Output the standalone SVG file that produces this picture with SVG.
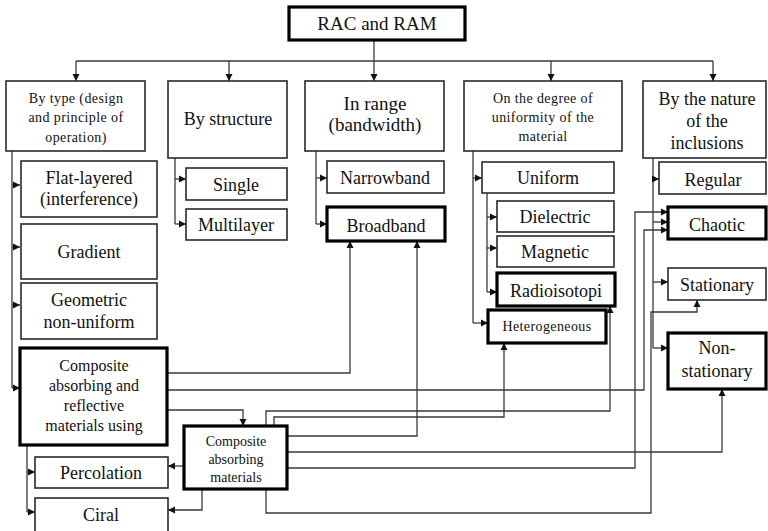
<svg xmlns="http://www.w3.org/2000/svg" width="768" height="531" viewBox="0 0 768 531" font-family="'Liberation Serif', 'DejaVu Serif', serif">
<defs>
<marker id="ah" markerWidth="8" markerHeight="8" refX="7" refY="4" orient="auto" markerUnits="userSpaceOnUse">
<path d="M0,0.5 L7,4 L0,7.5 z" fill="#111"/>
</marker>
</defs>
<style>
rect{fill:#fff;stroke:#2a2a2a;stroke-width:1.6}
rect.thick{stroke:#000;stroke-width:3.2}
text{font-family:'Liberation Serif','DejaVu Serif',serif;fill:#111;text-anchor:middle}
.s19{font-size:19px}
.s18{font-size:18px}
.s16{font-size:16px}
.s14{font-size:14px;letter-spacing:0.4px}
.c path{fill:none;stroke:#3a3a3a;stroke-width:1.3}
.c path.a{marker-end:url(#ah)}
</style>
<rect width="768" height="531" fill="#fff" style="stroke:none"/>

<g class="c" id="connectors">
<path d="M374,40 V61"/>
<path d="M76,61 H713"/>
<path class="a" d="M76,61 V81"/>
<path class="a" d="M229,61 V81"/>
<path class="a" d="M374,61 V81"/>
<path class="a" d="M551,61 V81"/>
<path class="a" d="M713,61 V81"/>
<path d="M12,151 V388"/>
<path class="a" d="M12,185 H20"/>
<path class="a" d="M12,247 H20"/>
<path class="a" d="M12,305 H20"/>
<path class="a" d="M12,388 H20"/>
<path d="M27,445 V512"/>
<path class="a" d="M27,472 H35"/>
<path class="a" d="M27,512 H35"/>
<path d="M175,158 V224"/>
<path class="a" d="M175,179 H186"/>
<path class="a" d="M175,224 H186"/>
<path d="M316,151 V224"/>
<path class="a" d="M316,178 H327"/>
<path class="a" d="M316,224 H327"/>
<path d="M473,151 V323"/>
<path class="a" d="M473,178 H482"/>
<path class="a" d="M473,323 H488"/>
<path d="M487,193 V292"/>
<path class="a" d="M487,217 H497"/>
<path class="a" d="M487,248 H497"/>
<path class="a" d="M487,292 H497"/>
<path d="M653,158 V348"/>
<path class="a" d="M653,179 H659"/>
<path class="a" d="M653,222 H668"/>
<path class="a" d="M653,282 H668"/>
<path class="a" d="M653,348 H668"/>
<path class="a" d="M167,373 H350 V241"/>
<path class="a" d="M167,390 H644 V230 H668"/>
<path class="a" d="M167,410 H243 V426"/>
<path class="a" d="M266,426 V411 H610 V306"/>
<path class="a" d="M274,426 V417 H504 V343"/>
<path class="a" d="M287,436 H417 V241"/>
<path class="a" d="M287,452 H722 V389"/>
<path class="a" d="M287,468 H635 V212 H668"/>
<path class="a" d="M266,489 V513 H651 V312 H697 V300"/>
<path class="a" d="M184,466 H168"/>
<path class="a" d="M202,489 V510 H168"/>
</g>

<g id="rac"><rect class="thick" x="289" y="7" width="176" height="33"/><text class="s19" x="377" y="30">RAC and RAM</text></g>

<g id="bytype"><rect x="6" y="81" width="139" height="70"/>
<text class="s14" x="76" y="103">By type (design</text><text class="s14" x="76" y="122">and principle  of</text><text class="s14" x="76" y="142">operation)</text></g>
<g id="bystructure"><rect x="168" y="81" width="119" height="77"/><text class="s18" x="228" y="125">By structure</text></g>
<g id="inrange"><rect x="305" y="81" width="139" height="70"/><text class="s19" x="375" y="110">In range</text><text class="s19" x="375" y="131">(bandwidth)</text></g>
<g id="degree"><rect x="464" y="81" width="158" height="70"/>
<text class="s14" x="543" y="103">On the degree of</text><text class="s14" x="543" y="122">uniformity  of the</text><text class="s14" x="543" y="141">material</text></g>
<g id="nature"><rect x="643" y="81" width="123" height="77"/>
<text class="s18" x="707" y="105">By the nature</text><text class="s18" x="707" y="127">of the</text><text class="s18" x="707" y="149">inclusions</text></g>

<g id="flat"><rect x="21" y="161" width="136" height="56"/><text class="s18" x="89" y="184">Flat-layered</text><text class="s18" x="89" y="205">(interference)</text></g>
<g id="gradient"><rect x="21" y="224" width="136" height="55"/><text class="s18" x="89" y="258">Gradient</text></g>
<g id="geometric"><rect x="21" y="283" width="136" height="56"/><text class="s18" x="89" y="306">Geometric</text><text class="s18" x="89" y="328">non-uniform</text></g>
<g id="car"><rect class="thick" x="20" y="348" width="147" height="97"/>
<text class="s16" x="94" y="371">Composite</text><text class="s16" x="94" y="391">absorbing  and</text><text class="s16" x="94" y="411">reflective</text><text class="s16" x="94" y="431">materials using</text></g>
<g id="cam"><rect class="thick" x="184" y="426" width="103" height="63"/>
<text class="s14" x="236" y="446" style="letter-spacing:0">Composite</text><text class="s14" x="236" y="464" style="letter-spacing:0">absorbing</text><text class="s14" x="236" y="482" style="letter-spacing:0">materials</text></g>
<g id="percolation"><rect x="35" y="457" width="133" height="31"/><text class="s18" x="101" y="479">Percolation</text></g>
<g id="ciral"><rect x="35" y="498" width="133" height="36"/><text class="s18" x="101" y="521">Ciral</text></g>

<g id="single"><rect x="186" y="168" width="101" height="32"/><text class="s18" x="236" y="191">Single</text></g>
<g id="multilayer"><rect x="186" y="209" width="101" height="31"/><text class="s18" x="236" y="231">Multilayer</text></g>
<g id="narrowband"><rect x="327" y="161" width="117" height="32"/><text class="s18" x="385" y="184">Narrowband</text></g>
<g id="broadband"><rect class="thick" x="327" y="207" width="118" height="34"/><text class="s18" x="386" y="232">Broadband</text></g>

<g id="uniform"><rect x="482" y="162" width="132" height="31"/><text class="s18" x="548" y="184">Uniform</text></g>
<g id="dielectric"><rect x="497" y="201" width="117" height="31"/><text class="s18" x="555" y="223">Dielectric</text></g>
<g id="magnetic"><rect x="497" y="236" width="117" height="31"/><text class="s18" x="555" y="258">Magnetic</text></g>
<g id="radioisotopi"><rect class="thick" x="497" y="273" width="118" height="33"/><text class="s18" x="556" y="297">Radioisotopi</text></g>
<g id="heterogeneous"><rect class="thick" x="488" y="310" width="118" height="33"/><text class="s14" x="547" y="331">Heterogeneous</text></g>

<g id="regular"><rect x="659" y="162" width="107" height="32"/><text class="s18" x="713" y="186">Regular</text></g>
<g id="chaotic"><rect class="thick" x="668" y="207" width="98" height="32"/><text class="s18" x="717" y="231">Chaotic</text></g>
<g id="stationary"><rect x="668" y="268" width="98" height="32"/><text class="s18" x="717" y="291">Stationary</text></g>
<g id="nonstationary"><rect class="thick" x="668" y="333" width="98" height="56"/><text class="s18" x="717" y="354">Non-</text><text class="s18" x="717" y="377">stationary</text></g>
</svg>
